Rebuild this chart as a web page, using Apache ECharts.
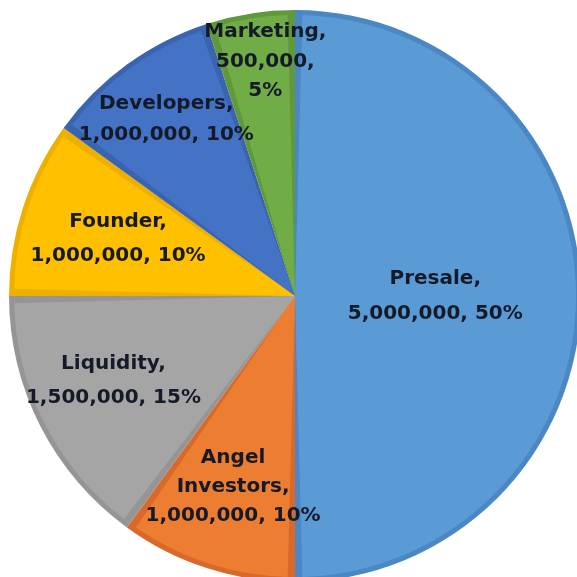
<!DOCTYPE html>
<html>
<head>
<meta charset="utf-8">
<script src="https://cdn.jsdelivr.net/npm/echarts@6/dist/echarts.min.js"></script>
<style>html,body{margin:0;padding:0;background:#fff}#c{width:577px;height:577px}</style>
</head>
<body>
<div id="c"></div>
<script>
var categories = ['Presale', 'Angel Investors', 'Liquidity', 'Founder', 'Developers', 'Marketing'];
var values = [5000000, 1000000, 1500000, 1000000, 1000000, 500000];

// styles
var fillColors = ['#5B9BD5', '#ED7D31', '#A5A5A5', '#FFC000', '#4472C4', '#70AD47'];
var edgeColors = ['#4A87C4', '#D9692A', '#959595', '#EDB000', '#3A63B0', '#60983C'];
var labelTemplates = ['{n},\n{v}, {p}', 'Angel\nInvestors,\n{v}, {p}', '{n},\n{v}, {p}', '{n},\n{v}, {p}', '{n},\n{v}, {p}', '{n},\n{v},\n{p}'];
var labelRadiusFrac = [0.48, 0.69, 0.69, 0.64, 0.755, 0.815];
var labelAngleShift = [0, 0, 2.0, 0, 0, 1.8];
var lineHeights = [35, 29, 34, 34, 31, 29.5];

var R = 286, Rin = 281, cx = 295, cy = 296;
var total = values.reduce(function (a, b) { return a + b; }, 0);
function fmt(n) { return n.toString().replace(/\B(?=(\d{3})+(?!\d))/g, ','); }

var acc = 0;
var frontData = [], backData = [];
categories.forEach(function (name, i) {
  var mid = (acc + values[i] / 2) / total * 2 * Math.PI;
  acc += values[i];
  var a = mid + labelAngleShift[i] * Math.PI / 180;
  var shift = labelRadiusFrac[i] * R;
  var ox = Math.sin(a) * shift - Math.sin(mid) * Rin / 2;
  var oy = -Math.cos(a) * shift + Math.cos(mid) * Rin / 2;
  backData.push({ name: name, value: values[i], itemStyle: { color: edgeColors[i] } });
  frontData.push({
    name: name, value: values[i],
    itemStyle: { color: fillColors[i] },
    label: { offset: [ox, oy], lineHeight: lineHeights[i] }
  });
});

var chart = echarts.init(document.getElementById('c'), null, { renderer: 'canvas' });
chart.setOption({
  animation: false,
  series: [
    {
      type: 'pie', center: [cx, cy], radius: [0, R], startAngle: 90, clockwise: true,
      data: backData, label: { show: false }, labelLine: { show: false }, silent: true
    },
    {
      type: 'pie', center: [cx, cy], radius: [0, Rin], startAngle: 90, clockwise: true,
      padAngle: 3,
      avoidLabelOverlap: false,
      labelLayout: { hideOverlap: false },
      data: frontData,
      labelLine: { show: false },
      label: {
        show: true, position: 'inside',
        fontFamily: 'DejaVu Sans', fontWeight: 'bold', fontSize: 20,
        color: '#141a28', align: 'center', verticalAlign: 'middle',
        formatter: function (p) {
          var i = p.dataIndex;
          return labelTemplates[i].replace('{n}', p.name).replace('{v}', fmt(p.value)).replace('{p}', Math.round(p.percent) + '%');
        }
      }
    }
  ]
});
</script>
</body>
</html>
